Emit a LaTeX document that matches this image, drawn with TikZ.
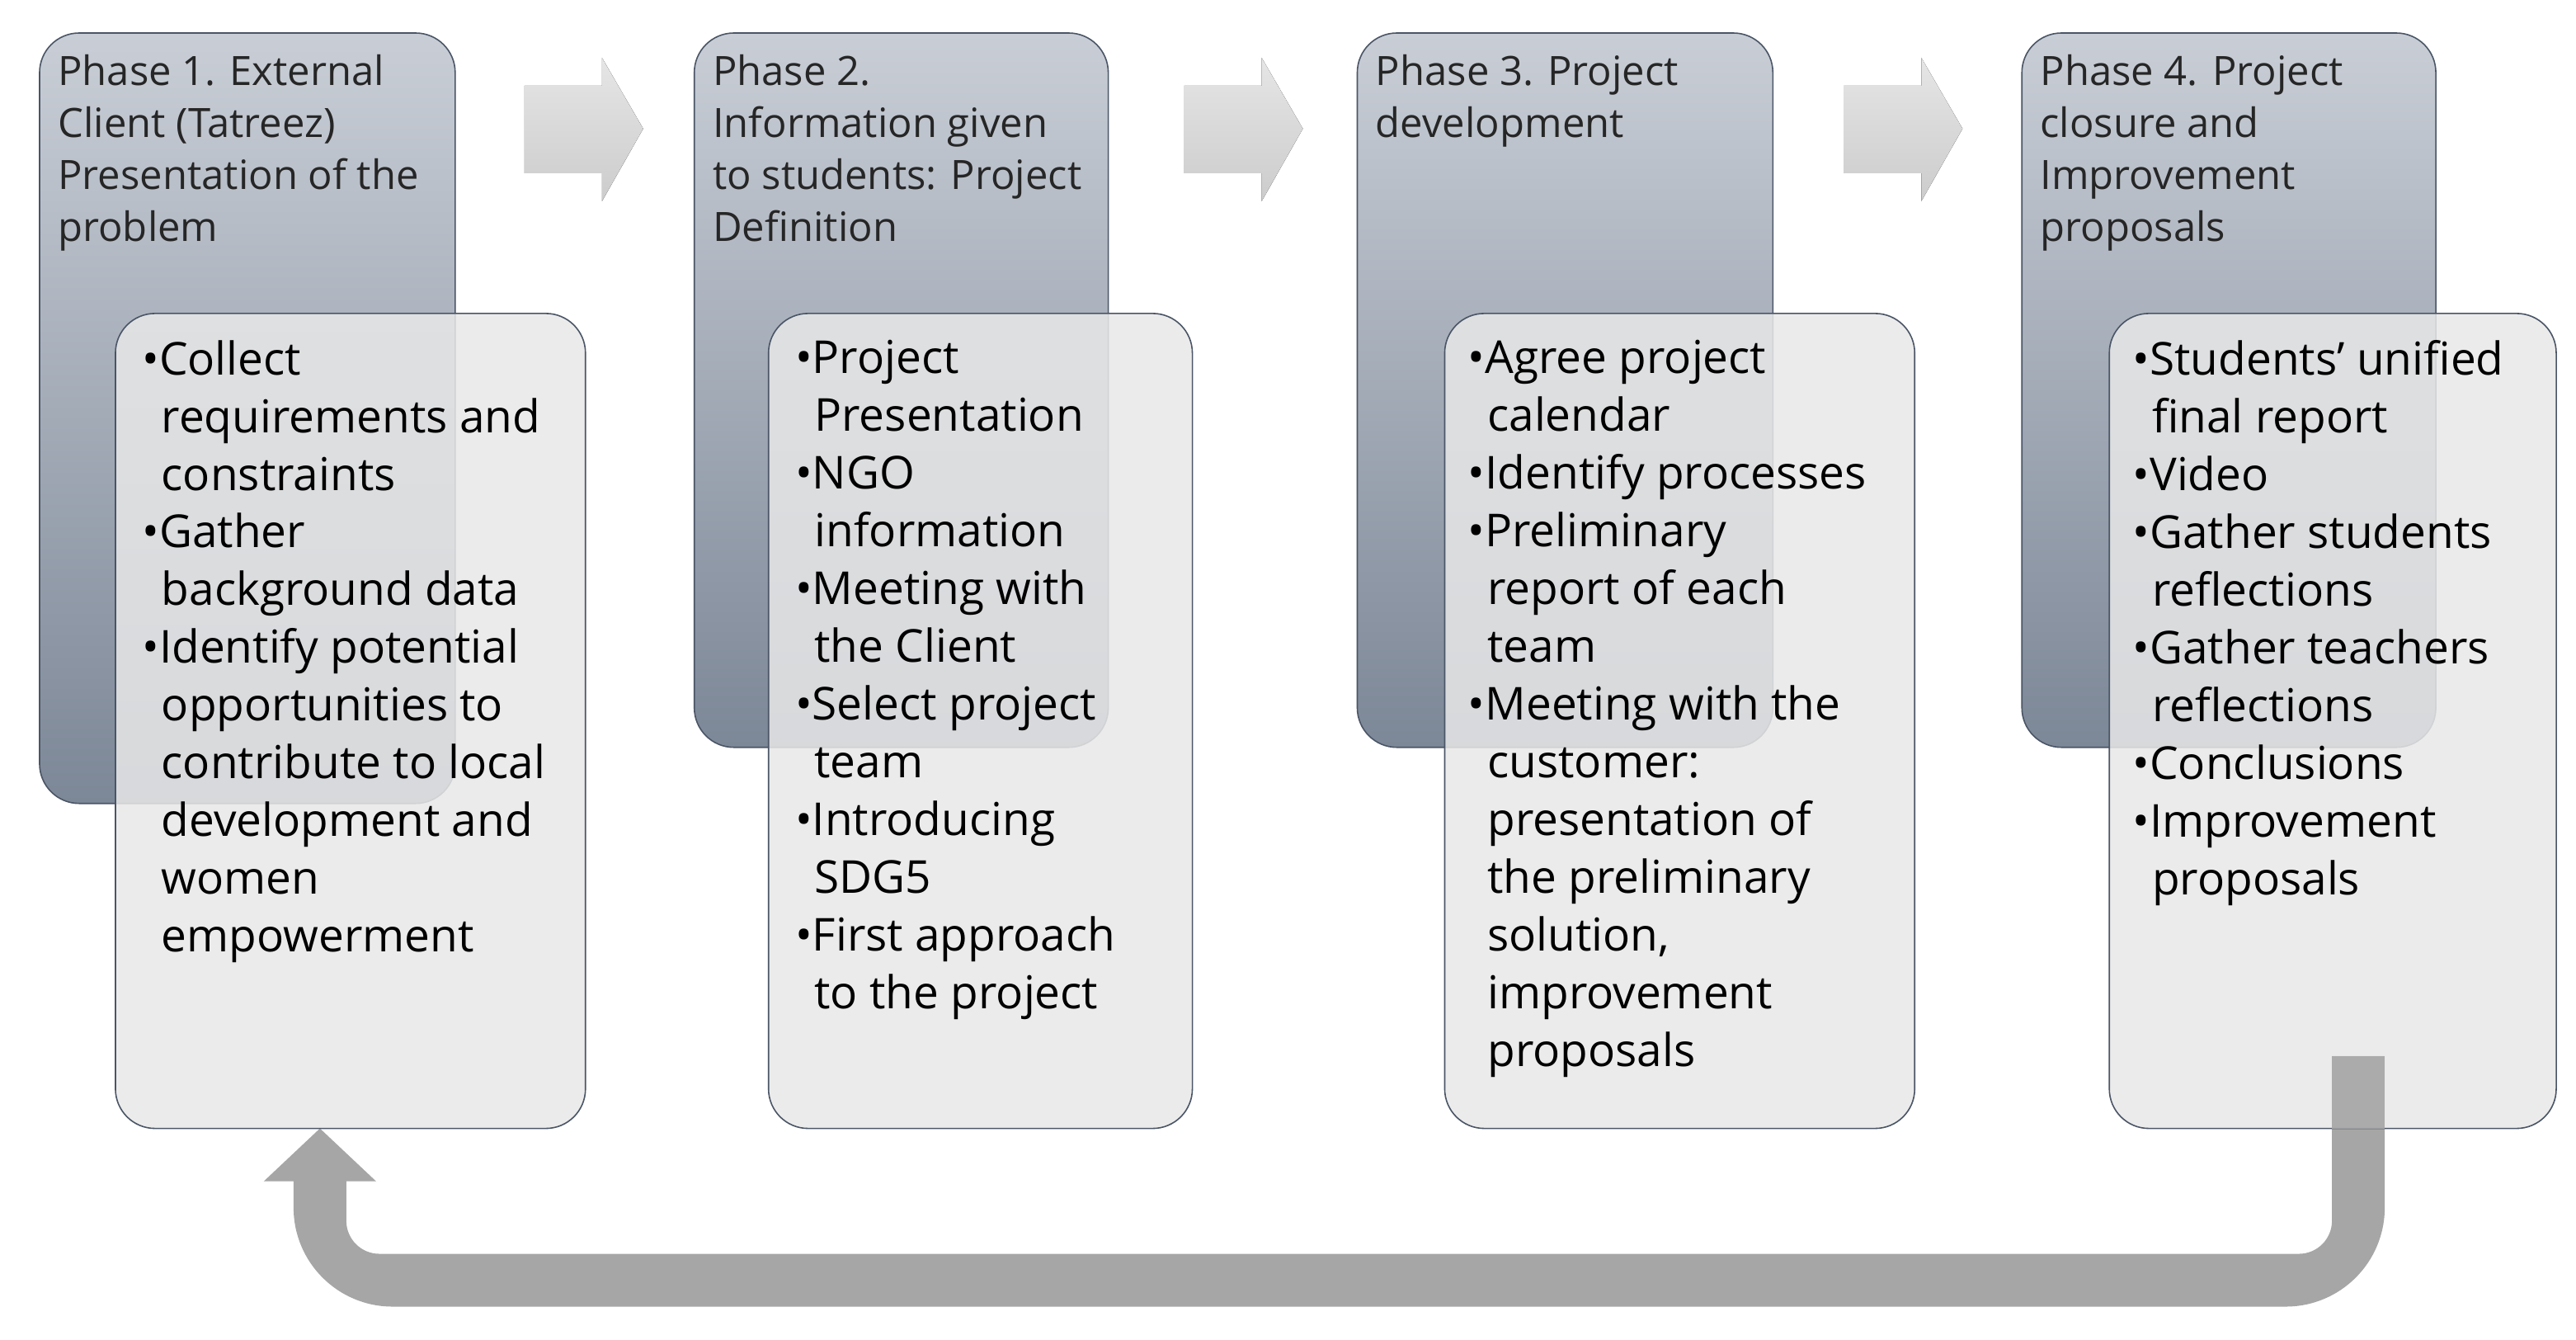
\documentclass[tikz,border=0pt]{standalone}
\usepackage{fontspec}
\setmainfont{Open Sans}
\definecolor{dtop}{HTML}{C9CED6}
\definecolor{dbot}{HTML}{7C8797}
\definecolor{edge}{HTML}{4A5566}
\definecolor{lbox}{HTML}{E8E8E8}
\definecolor{ret}{HTML}{A6A6A6}
\tikzset{
 darkbox/.style={rounded corners=24pt,draw=edge,line width=0.8pt,top color=dtop,bottom color=dbot},
 lightbox/.style={rounded corners=24pt,draw=edge,line width=0.8pt,fill=lbox,fill opacity=0.85},
 headtxt/.style={anchor=north west,align=left,font=\fontsize{24.5}{31.5}\selectfont,text=black!85,inner sep=0pt},
 bultxt/.style={anchor=north west,align=left,font=\fontsize{27.5}{35}\selectfont,text=black,inner sep=0pt},
 chevfill/.style={top color=black!10,bottom color=black!20,draw=none},
}
\newcommand\chevron[1]{\fill[chevfill] (#1,52) -- (#1+47,52) -- (#1+47,35) -- (#1+72,78) -- (#1+47,122) -- (#1+47,105) -- (#1,105) -- cycle;}
\begin{document}
\begin{tikzpicture}[x=1pt,y=-1pt]
\useasboundingbox (0,0) rectangle (1562,812);
% return arrow
\fill[ret] (1414,640) -- (1446,640) -- (1446,732) arc[start angle=0,end angle=90,radius=60] -- (238,792) arc[start angle=90,end angle=180,radius=60] -- (178,716) -- (160,716) -- (194,684) -- (228,716) -- (210,716) -- (210,740) arc[start angle=180,end angle=90,radius=20] -- (1394,760) arc[start angle=90,end angle=0,radius=20] -- cycle;
% chevrons
\chevron{318}
\chevron{718}
\chevron{1118}
% phase 1
\draw[darkbox] (24,20) rectangle (276,487);
\node[headtxt] (h1) at (35,33) {Phase 1. External\\Client (Tatreez)\\Presentation of the\\problem};
\draw[lightbox] (70,190) rectangle (355,684);
\node[bultxt] (b1) at (86,206) {•Collect\\\ \,requirements and\\\ \,constraints\\•Gather\\\ \,background data\\•Identify potential\\\ \,opportunities to\\\ \,contribute to local\\\ \,development and\\\ \,women\\\ \,empowerment};
% phase 2
\draw[darkbox] (421,20) rectangle (672,453);
\node[headtxt] (h2) at (432,33) {Phase 2.\\Information given\\to students: Project\\Definition};
\draw[lightbox] (466,190) rectangle (723,684);
\node[bultxt] (b2) at (482,206) {•Project\\\ \,Presentation\\•NGO\\\ \,information\\•Meeting with\\\ \,the Client\\•Select project\\\ \,team\\•Introducing\\\ \,SDG5\\•First approach\\\ \,to the project};
% phase 3
\draw[darkbox] (823,20) rectangle (1075,453);
\node[headtxt] (h3) at (834,33) {Phase 3. Project\\development};
\draw[lightbox] (876,190) rectangle (1161,684);
\node[bultxt] (b3) at (890,206) {•Agree project\\\ \,calendar\\•Identify processes\\•Preliminary\\\ \,report of each\\\ \,team\\•Meeting with the\\\ \,customer:\\\ \,presentation of\\\ \,the preliminary\\\ \,solution,\\\ \,improvement\\\ \,proposals};
% phase 4
\draw[darkbox] (1226,20) rectangle (1477,453);
\node[headtxt] (h4) at (1237,33) {Phase 4. Project\\closure and\\Improvement\\proposals};
\draw[lightbox] (1279,190) rectangle (1550,684);
\node[bultxt] (b4) at (1293,206) {•Students’ unified\\\ \,final report\\•Video\\•Gather students\\\ \,reflections\\•Gather teachers\\\ \,reflections\\•Conclusions\\•Improvement\\\ \,proposals};
\fill[ret,opacity=0.9] (1414,640) rectangle (1446,684);
\end{tikzpicture}
\end{document}
